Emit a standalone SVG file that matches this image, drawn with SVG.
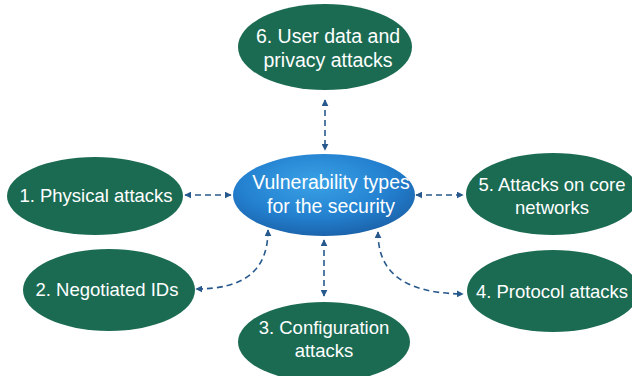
<svg xmlns="http://www.w3.org/2000/svg" width="632" height="376" viewBox="0 0 632 376">
  <defs>
    <radialGradient id="hubFill" cx="0.45" cy="0.35" r="0.7">
      <stop offset="0" stop-color="#3aa2e6"/>
      <stop offset="0.6" stop-color="#2380cf"/>
      <stop offset="1" stop-color="#1a5fa6"/>
    </radialGradient>
    <marker id="arrow" viewBox="0 0 10 10" refX="9" refY="5" markerWidth="7" markerHeight="7" orient="auto-start-reverse" markerUnits="userSpaceOnUse">
      <path d="M0,0 L10,5 L0,10 z" fill="#27598c"/>
    </marker>
  </defs>
  <style>
    .leaf { fill: #1b6b53; }
    .hub { fill: url(#hubFill); }
    .label { font-family: "Liberation Sans", Arial, sans-serif; font-size: 18.5px; fill: #ffffff; text-anchor: middle; }
    .big { font-size: 19.5px; }
    .link { fill: none; stroke: #27598c; stroke-width: 1.6; stroke-dasharray: 6 4; marker-start: url(#arrow); marker-end: url(#arrow); }
  </style>
  <rect width="632" height="376" fill="#ffffff"/>

  <g id="connectors">
    <line class="link" x1="325" y1="100" x2="325" y2="150"/>
    <line class="link" x1="185" y1="195" x2="231" y2="195"/>
    <line class="link" x1="416" y1="195" x2="463" y2="195"/>
    <line class="link" x1="324" y1="240" x2="324" y2="296"/>
    <path class="link" d="M268,230 C268,270 245,289 196,289"/>
    <path class="link" d="M378,232 C378,270 400,293 463,294"/>
  </g>

  <g id="node-hub">
    <ellipse class="hub" cx="324" cy="195" rx="91" ry="41"/>
    <text class="label big" x="331" y="189">Vulnerability types</text>
    <text class="label big" x="331" y="213">for the security</text>
  </g>

  <g id="node-6">
    <ellipse class="leaf" cx="325" cy="47" rx="87" ry="43"/>
    <text class="label big" x="328" y="43">6. User data and</text>
    <text class="label big" x="328" y="67">privacy attacks</text>
  </g>

  <g id="node-1">
    <ellipse class="leaf" cx="95" cy="196" rx="88" ry="39"/>
    <text class="label" x="96" y="202">1. Physical attacks</text>
  </g>

  <g id="node-5">
    <ellipse class="leaf" cx="553" cy="194" rx="87" ry="41"/>
    <text class="label" x="552" y="191">5. Attacks on core</text>
    <text class="label" x="552" y="214">networks</text>
  </g>

  <g id="node-2">
    <ellipse class="leaf" cx="109" cy="290" rx="86" ry="41"/>
    <text class="label" x="107" y="296">2. Negotiated IDs</text>
  </g>

  <g id="node-4">
    <ellipse class="leaf" cx="553" cy="291" rx="86" ry="41"/>
    <text class="label" x="552" y="298">4. Protocol attacks</text>
  </g>

  <g id="node-3">
    <ellipse class="leaf" cx="324" cy="342" rx="86" ry="40"/>
    <text class="label" x="324" y="334">3. Configuration</text>
    <text class="label" x="324" y="357">attacks</text>
  </g>
</svg>
